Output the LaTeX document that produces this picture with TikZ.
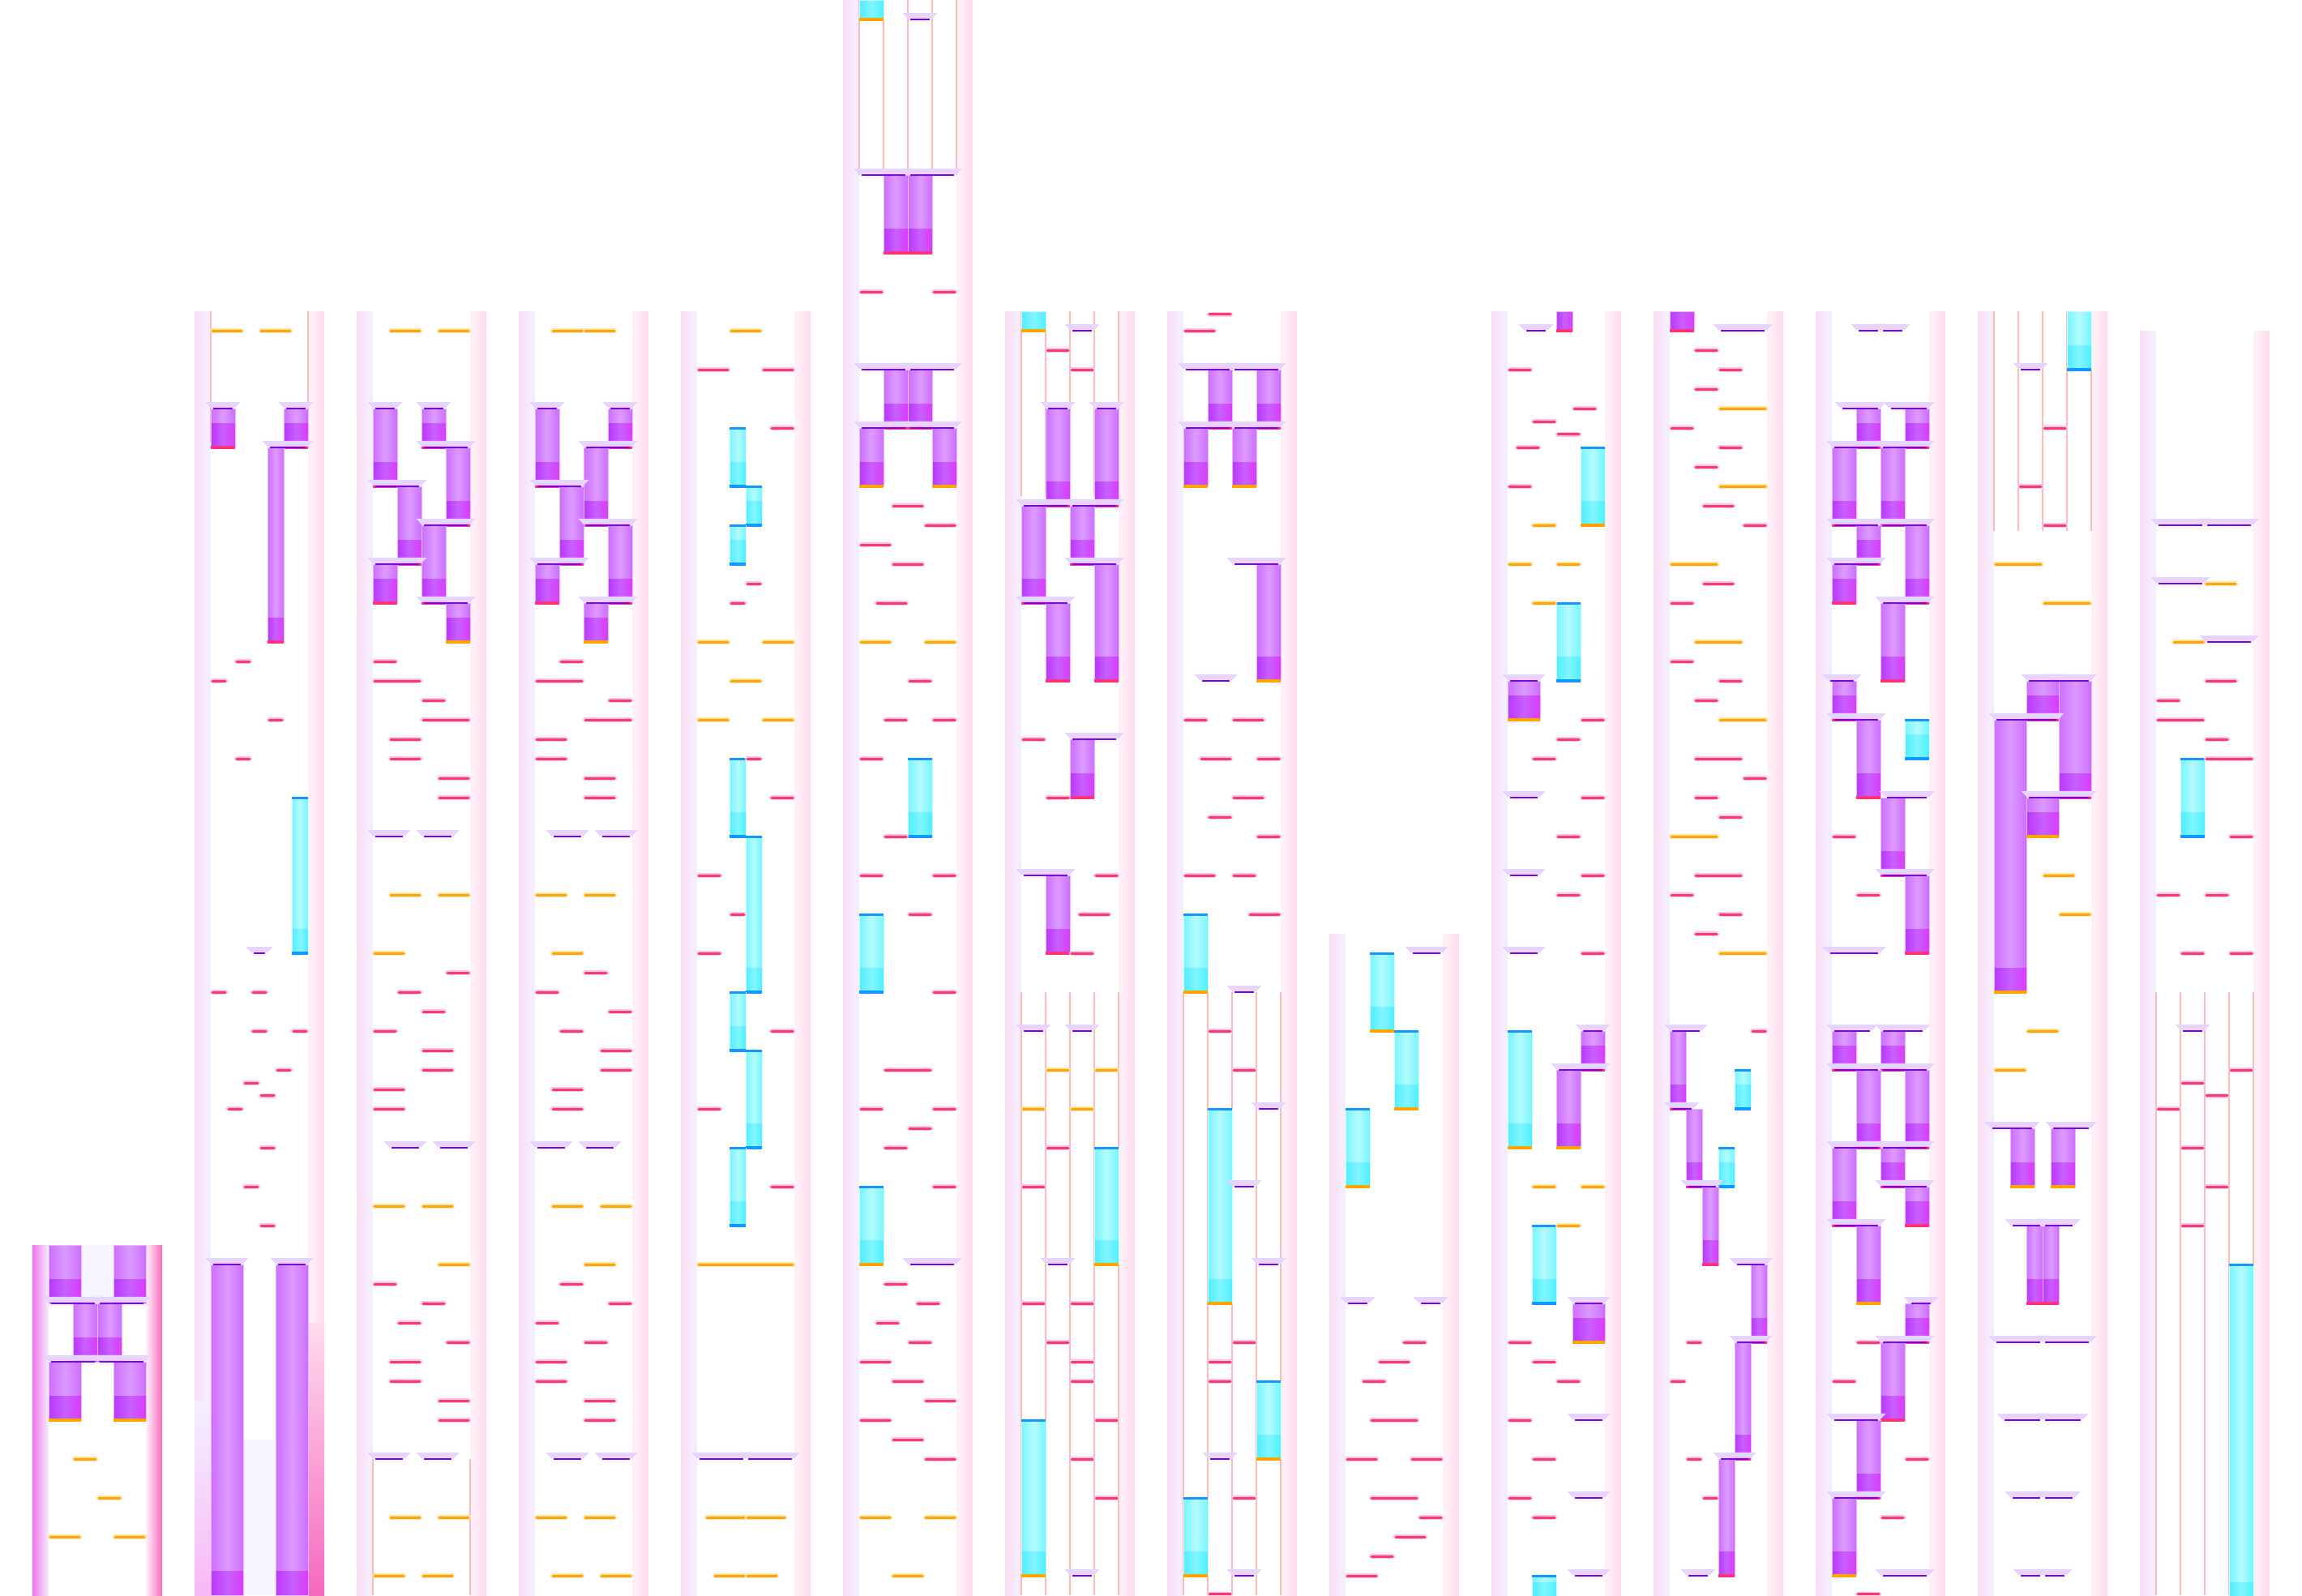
\documentclass[tikz,border=0pt]{standalone}
\definecolor{oC}{RGB}{255,165,0}
\definecolor{pC}{RGB}{255,50,125}
\definecolor{vC}{RGB}{125,0,255}
\definecolor{bC}{RGB}{20,150,255}
\definecolor{laneC}{RGB}{255,185,185}
\definecolor{pL1}{RGB}{205,110,255}
\definecolor{pL2}{RGB}{220,155,255}
\definecolor{pD1}{RGB}{185,55,255}
\definecolor{pD2}{RGB}{200,95,255}
\definecolor{pD3}{RGB}{218,60,250}
\definecolor{cL1}{RGB}{120,245,255}
\definecolor{cL2}{RGB}{178,251,255}
\definecolor{cD1}{RGB}{80,238,255}
\definecolor{cD2}{RGB}{128,246,255}
\definecolor{forkC}{RGB}{230,214,255}
\definecolor{bandL1}{RGB}{250,222,246}
\definecolor{bandL2}{RGB}{244,240,255}
\definecolor{bandR1}{RGB}{255,242,248}
\definecolor{bandR2}{RGB}{255,220,238}
\definecolor{magL}{RGB}{240,115,235}
\definecolor{magR}{RGB}{245,105,190}
\definecolor{lavT}{RGB}{246,244,255}
\tikzset{
 omark/.style={draw=oC,line width=3pt,line cap=round,preaction={draw=oC!30,line width=6pt,line cap=round}},
 pmark/.style={draw=pC,line width=3pt,line cap=round,preaction={draw=pC!25,line width=6pt,line cap=round}},
 forkline/.style={draw=vC,line width=2.6pt},
 forkfill/.style={fill=forkC,draw=vC!18,line width=0.5pt},
 laneline/.style={draw=laneC,line width=2.2pt},
 pborder/.style={draw=pL2!70!white,line width=1pt},
 cborder/.style={draw=cL2!60!white,line width=1pt},
 botorange/.style={draw=oC,line width=3.5pt},
 botpink/.style={draw=pC,line width=3.5pt},
 botblue/.style={draw=bC,line width=3.5pt},
 botnone/.style={draw=none},
 topblue/.style={draw=bC,line width=3pt},
}
\newif\ifblk
% orange / pink marks: x1 x2 row   (drawn in the second pass)
\newcommand\OM[3]{\ifblk\else\draw[omark] (#1+2,#3) -- (#2-2,#3);\fi}
\newcommand\PM[3]{\ifblk\else\draw[pmark] (#1+2,#3) -- (#2-2,#3);\fi}
% violet fork: x1 x2 row
\newcommand\VF[3]{\ifblk\else
 \fill[forkfill] (#1-6,#3-0.33) -- (#2+6,#3-0.33) -- (#2,#3-0.06) -- (#1,#3-0.06) -- cycle;
 \draw[forkline] (#1+3,#3) -- (#2-3,#3);\fi}
% purple block: x1 x2 top bottom bottomstyle   (first pass)
\newcommand\PB[5]{\ifblk
 \pgfmathsetmacro\dk{max(#3,#4-1.25)}%
 \shade[left color=pL1,right color=pL1,middle color=pL2] (#1,#3) rectangle (#2,\dk);
 \shade[left color=pD1,right color=pD3,middle color=pD2] (#1,\dk) rectangle (#2,#4);
 \draw[pborder] (#1,#3) rectangle (#2,#4);
 \draw[bot#5] (#1,#4) -- (#2,#4);\fi}
% cyan block: [topstyle] x1 x2 top bottom bottomstyle
\newcommand\CB[6][topblue]{\ifblk
 \pgfmathsetmacro\dk{max(#4,#5-1.25)}%
 \shade[left color=cL1,right color=cL1,middle color=cL2] (#2,#4) rectangle (#3,\dk);
 \shade[left color=cD1,right color=cD1,middle color=cD2] (#2,\dk) rectangle (#3,#5);
 \draw[cborder] (#2,#4) rectangle (#3,#5);
 \draw[#1] (#2,#4) -- (#3,#4);
 \draw[bot#6] (#2,#5) -- (#3,#5);\fi}
\newcommand\LN[2]{\foreach \xx in {20,50,80,110,140} {\draw[laneline] (\xx,#1) -- (\xx,#2);}}
\newcommand\BAND[2]{%
 \shade[left color=bandL1,right color=bandL2] (0,#1) rectangle (20,#2);
 \shade[left color=bandR1,right color=bandR2] (140,#1) rectangle (160,#2);}
\newcommand\TWOPASS{\blktrue\CONTENT\blkfalse\CONTENT}
\begin{document}
\begin{tikzpicture}[x=1pt,y=-24pt]
\useasboundingbox (0,0) rectangle (2840,82);
\fill[white] (0,0) rectangle (2840,82);
%================ column 1
\begin{scope}[xshift=40pt]
 \shade[left color=magL,right color=bandL2] (0,64) rectangle (20,82);
 \shade[left color=bandR1,right color=magR] (140,64) rectangle (160,82);
 \fill[lavT] (60,64) rectangle (100,67);
 \def\CONTENT{%
 \PB{20}{60}{64}{67}{none} \PB{100}{140}{64}{67}{none}
 \PB{50}{80}{67}{70}{none} \PB{80}{110}{67}{70}{none}
 \PB{20}{60}{70}{73}{orange} \PB{100}{140}{70}{73}{orange}
 \VF{20}{80}{67} \VF{80}{140}{67} \VF{20}{80}{70} \VF{80}{140}{70}
 \OM{50}{80}{75} \OM{80}{110}{77} \OM{20}{60}{79} \OM{100}{140}{79}}
 \TWOPASS
\end{scope}
%================ column 2
\begin{scope}[xshift=240pt]
 \BAND{16}{82}
 \shade[top color=bandR2,bottom color=magR] (140,68) rectangle (160,82);
 \shade[top color=bandL2,bottom color=magL!50] (0,72) rectangle (20,82);
 \fill[lavT] (60,74) rectangle (100,82);
 \draw[laneline] (20,16) -- (20,22.7); \draw[laneline] (140,16) -- (140,22.7);
 \def\CONTENT{%
 \OM{20}{60}{17} \OM{80}{120}{17}
 \PB{20}{50}{21}{23}{pink} \PB{110}{140}{21}{23}{pink}
 \PB{90}{110}{23}{33}{pink}
 \VF{20}{50}{21} \VF{110}{140}{21} \VF{90}{140}{23}
 \PM{50}{70}{34} \PM{20}{40}{35} \PM{90}{110}{37} \PM{50}{70}{39}
 \CB{120}{140}{41}{49}{blue}
 \VF{70}{90}{49}
 \PM{20}{40}{51} \PM{70}{90}{51} \PM{70}{90}{53} \PM{120}{140}{53}
 \PM{100}{120}{55} \PM{60}{80}{55.67} \PM{80}{100}{56.33} \PM{40}{60}{57}
 \PM{80}{100}{59} \PM{60}{80}{61} \PM{80}{100}{63}
 \PB{20}{60}{65}{82}{none} \PB{100}{140}{65}{82}{none}
 \VF{20}{60}{65} \VF{100}{140}{65}}
 \TWOPASS
\end{scope}
%================ column 3
\begin{scope}[xshift=440pt]
 \BAND{16}{82}
 \draw[laneline] (20,75) -- (20,82); \draw[laneline] (140,75) -- (140,82);
 \def\CONTENT{%
 \OM{40}{80}{17} \OM{100}{140}{17}
 \PB{20}{50}{21}{25}{pink} \PB{80}{110}{21}{23}{pink} \PB{110}{140}{23}{27}{pink}
 \PB{50}{80}{25}{29}{pink} \PB{80}{110}{27}{31}{pink} \PB{20}{50}{29}{31}{pink}
 \PB{110}{140}{31}{33}{orange}
 \VF{20}{50}{21} \VF{80}{110}{21} \VF{80}{140}{23} \VF{20}{80}{25}
 \VF{80}{140}{27} \VF{20}{80}{29} \VF{80}{140}{31}
 \PM{20}{50}{34} \PM{20}{80}{35} \PM{80}{110}{36} \PM{80}{140}{37}
 \PM{40}{80}{38} \PM{40}{80}{39} \PM{100}{140}{40} \PM{100}{140}{41}
 \VF{20}{60}{43} \VF{80}{120}{43}
 \OM{40}{80}{46} \OM{100}{140}{46} \OM{20}{60}{49}
 \PM{110}{140}{50} \PM{50}{80}{51} \PM{80}{110}{52} \PM{20}{50}{53}
 \PM{80}{120}{54} \PM{80}{120}{55} \PM{20}{60}{56} \PM{20}{60}{57}
 \VF{40}{80}{59} \VF{100}{140}{59}
 \OM{20}{60}{62} \OM{80}{120}{62} \OM{100}{140}{65}
 \PM{20}{50}{66} \PM{80}{110}{67} \PM{50}{80}{68} \PM{110}{140}{69}
 \PM{40}{80}{70} \PM{40}{80}{71} \PM{100}{140}{72} \PM{100}{140}{73}
 \VF{20}{60}{75} \VF{80}{120}{75}
 \OM{40}{80}{78} \OM{100}{140}{78} \OM{20}{60}{81} \OM{80}{120}{81}}
 \TWOPASS
\end{scope}
%================ column 4
\begin{scope}[xshift=640pt]
 \BAND{16}{82}
 \def\CONTENT{%
 \OM{40}{80}{17} \OM{80}{120}{17}
 \PB{20}{50}{21}{25}{pink} \PB{110}{140}{21}{23}{pink} \PB{80}{110}{23}{27}{pink}
 \PB{50}{80}{25}{29}{pink} \PB{110}{140}{27}{31}{pink} \PB{20}{50}{29}{31}{pink}
 \PB{80}{110}{31}{33}{orange}
 \VF{20}{50}{21} \VF{110}{140}{21} \VF{80}{140}{23} \VF{20}{80}{25}
 \VF{80}{140}{27} \VF{20}{80}{29} \VF{80}{140}{31}
 \PM{50}{80}{34} \PM{20}{80}{35} \PM{110}{140}{36} \PM{80}{140}{37}
 \PM{20}{60}{38} \PM{20}{60}{39} \PM{80}{120}{40} \PM{80}{120}{41}
 \VF{40}{80}{43} \VF{100}{140}{43}
 \OM{20}{60}{46} \OM{80}{120}{46} \OM{40}{80}{49}
 \PM{80}{110}{50} \PM{20}{50}{51} \PM{110}{140}{52} \PM{50}{80}{53}
 \PM{100}{140}{54} \PM{100}{140}{55} \PM{40}{80}{56} \PM{40}{80}{57}
 \VF{20}{60}{59} \VF{80}{120}{59}
 \OM{40}{80}{62} \OM{100}{140}{62} \OM{80}{120}{65}
 \PM{50}{80}{66} \PM{110}{140}{67} \PM{20}{50}{68} \PM{80}{110}{69}
 \PM{20}{60}{70} \PM{20}{60}{71} \PM{80}{120}{72} \PM{80}{120}{73}
 \VF{40}{80}{75} \VF{100}{140}{75}
 \OM{20}{60}{78} \OM{80}{120}{78} \OM{40}{80}{81} \OM{100}{140}{81}}
 \TWOPASS
\end{scope}
%================ column 5
\begin{scope}[xshift=840pt]
 \BAND{16}{82}
 \def\CONTENT{%
 \OM{60}{100}{17}
 \PM{20}{60}{19} \PM{100}{140}{19} \PM{110}{140}{22}
 \CB{60}{80}{22}{25}{blue} \CB{80}{100}{25}{27}{blue} \CB{60}{80}{27}{29}{blue}
 \PM{80}{100}{30} \PM{60}{80}{31}
 \OM{20}{60}{33} \OM{100}{140}{33} \OM{60}{100}{35} \OM{20}{60}{37} \OM{100}{140}{37}
 \CB{60}{80}{39}{43}{blue} \PM{80}{100}{39} \PM{110}{140}{41}
 \CB{80}{100}{43}{51}{blue}
 \PM{20}{50}{45} \PM{60}{80}{47} \PM{20}{50}{49}
 \CB{60}{80}{51}{54}{blue} \PM{110}{140}{53}
 \CB{80}{100}{54}{59}{blue} \PM{20}{50}{57}
 \CB{60}{80}{59}{63}{blue} \PM{110}{140}{61}
 \OM{20}{140}{65}
 \VF{20}{80}{75} \VF{80}{140}{75}
 \OM{30}{80}{78} \OM{80}{130}{78} \OM{40}{80}{81} \OM{80}{120}{81}}
 \TWOPASS
\end{scope}
%================ column 6
\begin{scope}[xshift=1040pt]
 \BAND{0}{82}
 \LN{0}{9}
 \def\CONTENT{%
 \CB[botnone]{20}{50}{0}{1}{orange}
 \VF{80}{110}{1}
 \PB{50}{80}{9}{13}{pink} \PB{80}{110}{9}{13}{pink}
 \VF{20}{80}{9} \VF{80}{140}{9}
 \PM{20}{50}{15} \PM{110}{140}{15}
 \PB{50}{80}{19}{22}{pink} \PB{80}{110}{19}{22}{pink}
 \PB{20}{50}{22}{25}{orange} \PB{110}{140}{22}{25}{orange}
 \VF{20}{80}{19} \VF{80}{140}{19} \VF{20}{80}{22} \VF{80}{140}{22}
 \PM{60}{100}{26} \PM{100}{140}{27} \PM{20}{60}{28} \PM{60}{100}{29} \PM{40}{80}{31}
 \OM{20}{60}{33} \OM{100}{140}{33}
 \PM{80}{110}{35} \PM{50}{80}{37} \PM{110}{140}{37}
 \PM{20}{50}{39} \CB{80}{110}{39}{43}{blue}
 \PM{50}{80}{43} \PM{20}{50}{45} \PM{110}{140}{45}
 \PM{80}{110}{47} \CB{20}{50}{47}{51}{blue}
 \PM{110}{140}{51} \PM{50}{110}{55} \PM{20}{50}{57} \PM{110}{140}{57}
 \PM{80}{110}{58} \PM{50}{80}{59}
 \CB{20}{50}{61}{65}{orange} \PM{110}{140}{61}
 \VF{80}{140}{65}
 \PM{50}{80}{66} \PM{90}{120}{67} \PM{40}{70}{68} \PM{80}{110}{69} \PM{20}{60}{70}
 \PM{60}{100}{71} \PM{100}{140}{72} \PM{20}{60}{73} \PM{60}{100}{74} \PM{100}{140}{75}
 \OM{20}{60}{78} \OM{100}{140}{78} \OM{60}{100}{81}}
 \TWOPASS
\end{scope}
%================ column 7
\begin{scope}[xshift=1240pt]
 \BAND{16}{82}
 \LN{16}{25.5}
 \LN{51}{82}
 \def\CONTENT{%
 \CB[botnone]{20}{50}{16}{17}{orange}
 \VF{80}{110}{17}
 \PM{50}{80}{18} \PM{80}{110}{19}
 \PB{50}{80}{21}{26}{pink} \PB{110}{140}{21}{26}{pink}
 \PB{20}{50}{26}{31}{pink} \PB{80}{110}{26}{29}{pink}
 \PB{110}{140}{29}{35}{pink} \PB{50}{80}{31}{35}{pink}
 \VF{50}{80}{21} \VF{110}{140}{21} \VF{20}{80}{26} \VF{80}{140}{26}
 \VF{80}{140}{29} \VF{20}{80}{31}
 \PM{20}{50}{38} \PB{80}{110}{38}{41}{pink} \VF{80}{140}{38}
 \PM{50}{80}{41}
 \PB{50}{80}{45}{49}{pink} \VF{20}{80}{45} \PM{110}{140}{45}
 \PM{90}{130}{47} \PM{80}{110}{49}
 \VF{20}{50}{53} \VF{80}{110}{53}
 \OM{50}{80}{55} \OM{110}{140}{55} \OM{20}{50}{57} \OM{80}{110}{57}
 \PM{50}{80}{59} \CB{110}{140}{59}{65}{orange}
 \PM{20}{50}{61} \VF{50}{80}{65}
 \PM{20}{50}{67} \PM{80}{110}{67} \PM{50}{80}{69} \PM{80}{110}{70} \PM{80}{110}{71}
 \PM{110}{140}{73} \CB{20}{50}{73}{81}{orange}
 \PM{80}{110}{75} \PM{110}{140}{77}
 \VF{80}{110}{81}}
 \TWOPASS
\end{scope}
%================ column 8
\begin{scope}[xshift=1440pt]
 \BAND{16}{82}
 \LN{51}{82}
 \def\CONTENT{%
 \PM{50}{80}{16.15} \PM{20}{60}{17}
 \PB{50}{80}{19}{22}{pink} \PB{110}{140}{19}{22}{pink}
 \PB{20}{50}{22}{25}{orange} \PB{80}{110}{22}{25}{orange}
 \VF{20}{80}{19} \VF{80}{140}{19} \VF{20}{80}{22} \VF{80}{140}{22}
 \PB{110}{140}{29}{35}{orange} \VF{80}{140}{29}
 \VF{40}{80}{35}
 \PM{20}{50}{37} \PM{80}{120}{37} \PM{40}{80}{39} \PM{110}{140}{39}
 \PM{80}{120}{41} \PM{50}{80}{42} \PM{110}{140}{43}
 \PM{20}{60}{45} \PM{80}{110}{45} \PM{100}{140}{47}
 \CB{20}{50}{47}{51}{orange}
 \VF{80}{110}{51}
 \PM{50}{80}{53} \PM{80}{110}{55}
 \CB{50}{80}{57}{67}{orange} \VF{110}{140}{57}
 \VF{80}{110}{61} \VF{110}{140}{65}
 \PM{80}{110}{69} \PM{50}{80}{70} \PM{50}{80}{71}
 \CB{110}{140}{71}{75}{orange} \VF{50}{80}{75}
 \PM{80}{110}{77} \CB{20}{50}{77}{81}{orange}
 \VF{80}{110}{81} \PM{50}{80}{81.95}}
 \TWOPASS
\end{scope}
%================ column 9
\begin{scope}[xshift=1640pt]
 \BAND{48}{82}
 \def\CONTENT{%
 \CB{50}{80}{49}{53}{orange} \VF{100}{140}{49}
 \CB{80}{110}{53}{57}{orange}
 \CB{20}{50}{57}{61}{orange}
 \VF{20}{50}{67} \VF{110}{140}{67}
 \PM{90}{120}{69} \PM{60}{100}{70} \PM{40}{70}{71} \PM{50}{110}{73}
 \PM{20}{60}{75} \PM{100}{140}{75} \PM{50}{110}{77} \PM{110}{140}{78}
 \PM{80}{120}{79} \PM{50}{80}{80} \PM{20}{60}{81}}
 \TWOPASS
\end{scope}
%================ column 10
\begin{scope}[xshift=1840pt]
 \BAND{16}{82}
 \def\CONTENT{%
 \PB{80}{100}{16}{17}{pink} \VF{40}{70}{17}
 \PM{20}{50}{19} \PM{100}{130}{21} \PM{50}{80}{21.67} \PM{80}{110}{22.33} \PM{30}{60}{23}
 \CB{110}{140}{23}{27}{orange} \PM{20}{50}{25}
 \OM{50}{80}{27} \OM{20}{50}{29} \OM{80}{110}{29} \OM{50}{80}{31}
 \CB{80}{110}{31}{35}{blue}
 \PB{20}{60}{35}{37}{orange} \VF{20}{60}{35}
 \PM{110}{140}{37} \PM{80}{110}{38} \PM{50}{80}{39}
 \VF{20}{60}{41} \PM{110}{140}{41} \PM{80}{110}{43}
 \VF{20}{60}{45} \PM{110}{140}{45} \PM{80}{110}{46}
 \VF{20}{60}{49} \PM{110}{140}{49}
 \CB{20}{50}{53}{59}{orange}
 \PB{110}{140}{53}{55}{pink} \PB{80}{110}{55}{59}{orange}
 \VF{110}{140}{53} \VF{80}{140}{55}
 \OM{50}{80}{61} \OM{110}{140}{61} \OM{80}{110}{63}
 \CB{50}{80}{63}{67}{blue}
 \PB{100}{140}{67}{69}{orange} \VF{100}{140}{67}
 \PM{20}{50}{69} \PM{50}{80}{70} \PM{80}{110}{71}
 \PM{20}{50}{73} \VF{100}{140}{73} \PM{50}{80}{75}
 \PM{20}{50}{77} \VF{100}{140}{77} \PM{50}{80}{78}
 \VF{100}{140}{81} \CB{50}{80}{81}{82.6}{none}}
 \TWOPASS
\end{scope}
%================ column 11
\begin{scope}[xshift=2040pt]
 \BAND{16}{82}
 \def\CONTENT{%
 \PB{20}{50}{16}{17}{pink} \VF{80}{140}{17}
 \PM{50}{80}{18} \PM{80}{110}{19} \PM{50}{80}{20} \OM{80}{140}{21}
 \PM{20}{50}{22} \PM{80}{110}{23} \PM{50}{80}{24} \OM{80}{140}{25}
 \PM{60}{100}{26} \PM{110}{140}{27} \OM{20}{80}{29} \PM{60}{100}{30}
 \PM{20}{50}{31} \OM{50}{110}{33} \PM{20}{50}{34} \PM{80}{110}{35}
 \PM{50}{80}{36} \OM{80}{140}{37} \PM{50}{110}{39}
 \PM{110}{140}{40} \PM{50}{80}{41} \PM{80}{110}{42} \OM{20}{80}{43}
 \PM{50}{110}{45} \PM{20}{50}{46} \PM{80}{110}{47} \PM{50}{80}{48} \OM{80}{140}{49}
 \PB{20}{40}{53}{57}{pink} \VF{20}{60}{53} \PM{120}{140}{53}
 \CB{100}{120}{55}{57}{blue}
 \PB{40}{60}{57}{61}{pink} \VF{20}{50}{57}
 \CB{80}{100}{59}{61}{blue}
 \PB{60}{80}{61}{65}{pink} \VF{40}{80}{61}
 \PB{120}{140}{65}{69}{pink} \VF{100}{140}{65}
 \PB{100}{120}{69}{75}{pink} \VF{100}{140}{69} \PM{40}{60}{69}
 \PM{20}{40}{71}
 \PB{80}{100}{75}{81}{pink} \VF{80}{120}{75} \PM{40}{60}{75}
 \PM{60}{80}{77}
 \VF{40}{70}{81}}
 \TWOPASS
\end{scope}
%================ column 12
\begin{scope}[xshift=2240pt]
 \BAND{16}{82}
 \def\CONTENT{%
 \VF{50}{80}{17} \VF{80}{110}{17}
 \PB{50}{80}{21}{23}{pink} \PB{110}{140}{21}{23}{pink}
 \PB{20}{50}{23}{27}{pink} \PB{80}{110}{23}{27}{pink}
 \PB{50}{80}{27}{29}{pink} \PB{110}{140}{27}{31}{pink}
 \PB{20}{50}{29}{31}{pink} \PB{80}{110}{31}{35}{pink}
 \VF{30}{80}{21} \VF{90}{140}{21} \VF{20}{80}{23} \VF{80}{140}{23}
 \VF{20}{80}{27} \VF{80}{140}{27} \VF{20}{80}{29} \VF{80}{140}{31}
 \PB{20}{50}{35}{37}{pink} \VF{15}{50}{35}
 \PB{50}{80}{37}{41}{pink} \VF{20}{80}{37}
 \CB{110}{140}{37}{39}{blue}
 \PB{80}{110}{41}{45}{pink} \VF{85}{140}{41}
 \PB{110}{140}{45}{49}{pink} \VF{80}{140}{45}
 \PM{20}{50}{43} \PM{50}{80}{46} \VF{15}{80}{49}
 \PB{20}{50}{53}{55}{pink} \PB{80}{110}{53}{55}{pink}
 \PB{50}{80}{55}{59}{pink} \PB{110}{140}{55}{59}{pink}
 \PB{20}{50}{59}{63}{pink} \PB{80}{110}{59}{61}{pink}
 \PB{110}{140}{61}{63}{pink} \PB{50}{80}{63}{67}{orange}
 \PB{110}{140}{67}{69}{pink} \PB{80}{110}{69}{73}{pink}
 \PB{50}{80}{73}{77}{pink} \PB{20}{50}{77}{81}{orange}
 \VF{20}{70}{53} \VF{80}{135}{53} \VF{20}{80}{55} \VF{80}{140}{55}
 \VF{20}{80}{59} \VF{80}{140}{59} \VF{80}{140}{61} \VF{20}{80}{63}
 \VF{115}{145}{67} \VF{80}{140}{69} \VF{20}{80}{73} \VF{20}{80}{77}
 \PM{50}{80}{69} \PM{20}{50}{71} \PM{110}{140}{75} \PM{80}{110}{78}
 \VF{80}{140}{81} \PM{50}{80}{81.95}}
 \TWOPASS
\end{scope}
%================ column 13
\begin{scope}[xshift=2440pt]
 \BAND{16}{82}
 \LN{16}{27.3}
 \def\CONTENT{%
 \CB[botnone]{110}{140}{16}{19}{blue}
 \VF{50}{80}{19}
 \PM{80}{110}{22} \PM{50}{80}{25} \PM{80}{110}{27}
 \OM{20}{80}{29} \OM{80}{140}{31}
 \PB{60}{100}{35}{37}{pink} \PB{100}{140}{35}{41}{pink}
 \PB{20}{60}{37}{51}{orange} \PB{60}{100}{41}{43}{orange}
 \VF{60}{100}{35} \VF{90}{140}{35} \VF{20}{100}{37} \VF{60}{140}{41}
 \OM{80}{120}{45} \OM{100}{140}{47} \OM{60}{100}{53} \OM{20}{60}{55}
 \PB{40}{70}{58}{61}{orange} \PB{90}{120}{58}{61}{orange}
 \VF{15}{70}{58} \VF{90}{140}{58}
 \PB{60}{80}{63}{67}{pink} \PB{80}{100}{63}{67}{pink}
 \VF{40}{80}{63} \VF{80}{120}{63}
 \VF{20}{80}{69} \VF{80}{140}{69}
 \VF{30}{80}{73} \VF{80}{130}{73}
 \VF{40}{80}{77} \VF{80}{120}{77}
 \VF{50}{80}{81} \VF{80}{110}{81}}
 \TWOPASS
\end{scope}
%================ column 14
\begin{scope}[xshift=2640pt]
 \BAND{17}{82}
 \LN{51}{82}
 \def\CONTENT{%
 \VF{20}{80}{27} \VF{80}{140}{27}
 \VF{20}{80}{30} \OM{80}{120}{30}
 \OM{40}{80}{33} \VF{80}{140}{33}
 \PM{80}{120}{35} \PM{20}{50}{36} \PM{20}{80}{37} \PM{80}{110}{38} \PM{80}{140}{39}
 \CB{50}{80}{39}{43}{blue}
 \PM{110}{140}{43} \PM{20}{50}{46} \PM{80}{110}{46} \PM{50}{80}{49} \PM{110}{140}{49}
 \VF{50}{80}{53} \PM{110}{140}{55} \PM{50}{80}{55.67} \PM{80}{110}{56.33} \PM{20}{50}{57}
 \PM{50}{80}{59} \PM{80}{110}{61} \PM{50}{80}{63}
 \CB{110}{140}{65}{82.6}{none}}
 \TWOPASS
\end{scope}
\end{tikzpicture}
\end{document}
